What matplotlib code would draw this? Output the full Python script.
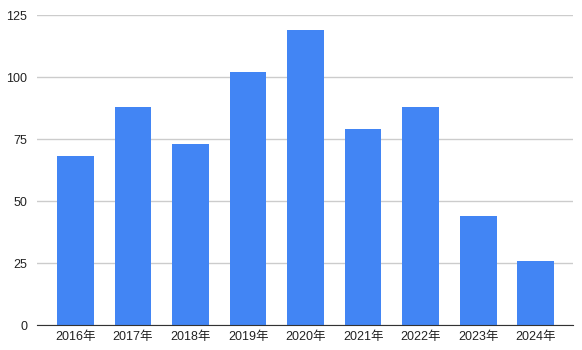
import matplotlib
matplotlib.use("Agg")
import matplotlib.pyplot as plt

plt.rcParams['font.family'] = ['Liberation Sans', 'Noto Sans CJK JP', 'DejaVu Sans']

categories = ['2016年', '2017年', '2018年', '2019年', '2020年', '2021年', '2022年', '2023年', '2024年']
values = [68, 88, 73, 102, 119, 79, 88, 44, 26]
yticks = [0, 25, 50, 75, 100, 125]

fig = plt.figure(figsize=(5.82, 3.5), dpi=100)
ax = fig.add_axes([37/582, 25/350, 536/582, 310/350])

x = list(range(len(categories)))
ax.bar(x, values, width=0.64, color='#4285F4', zorder=3)

ax.set_xlim(-0.67, 8.65)
ax.set_ylim(0, 125)
ax.set_yticks(yticks)
ax.set_xticks(x)
ax.set_xticklabels(categories)
ax.grid(axis='y', color='#cccccc', linewidth=1, zorder=0)
for s in ['top', 'right', 'left']:
    ax.spines[s].set_visible(False)
ax.spines['bottom'].set_color('#333333')
ax.spines['bottom'].set_zorder(4)
ax.tick_params(axis='both', length=0, labelsize=9, colors='#222222')
ax.tick_params(axis='x', pad=4)
ax.tick_params(axis='y', pad=7)

fig.savefig('out.png', dpi=100)
